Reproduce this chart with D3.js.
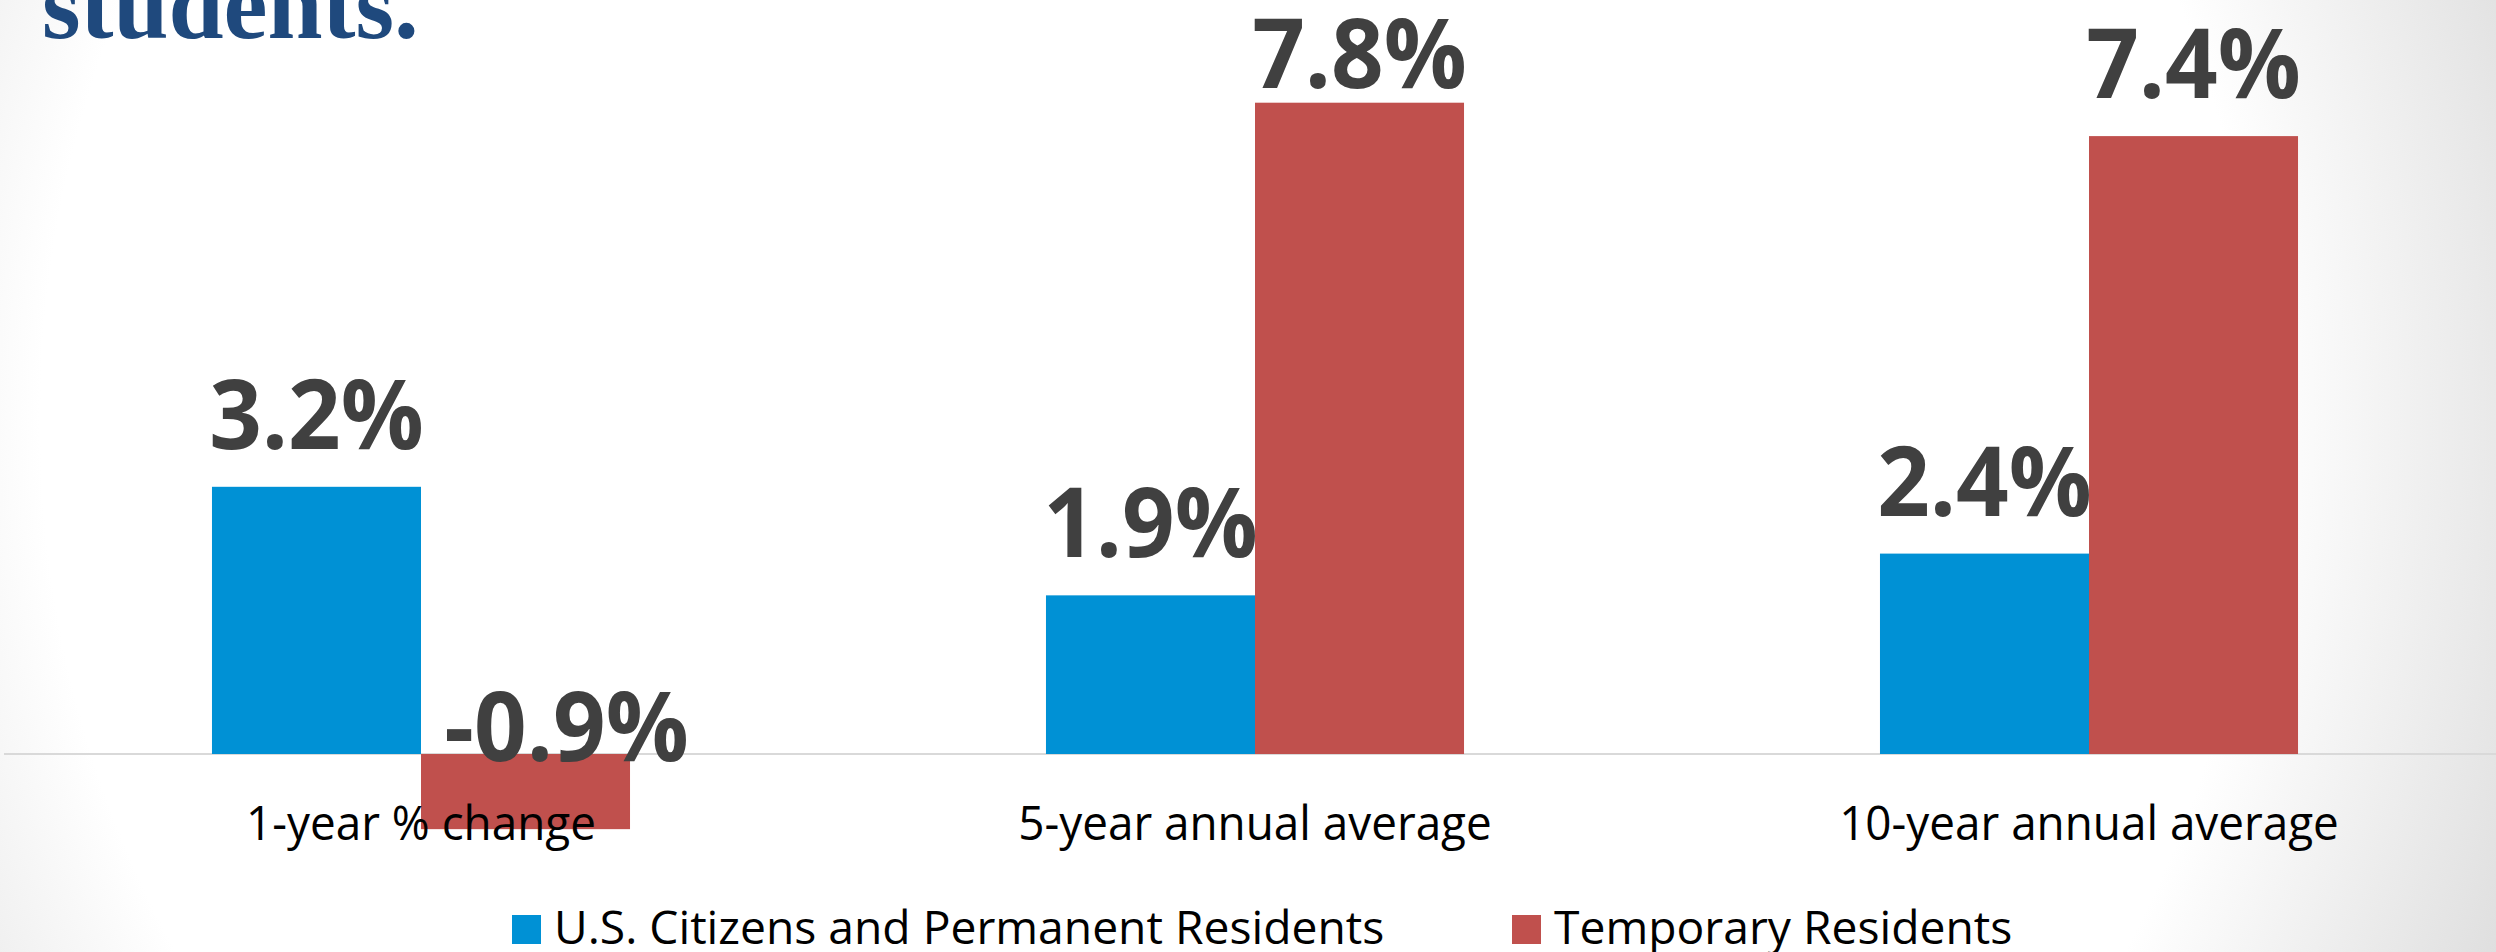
<!DOCTYPE html>
<html>
<head>
<meta charset="utf-8">
<script src="https://cdn.jsdelivr.net/npm/d3@7/dist/d3.min.js"></script>
<style>
  html, body { margin: 0; padding: 0; background: #fff; }
  svg { display: block; }
</style>
</head>
<body>
<svg id="chart" width="2496" height="952"></svg>
<script>
// ---- data ----
const categories = ["1-year % change", "5-year annual average", "10-year annual average"];
const seriesNames = ["U.S. Citizens and Permanent Residents", "Temporary Residents"];
const citizensValues = [3.2, 1.9, 2.4];
const temporaryValues = [-0.9, 7.8, 7.4];
const titleText = "students.";

// ---- layout / style ----
const W = 2496, H = 952;
const colors = ["#0091d5", "#c0504d"];
const svg = d3.select("#chart");

function condense(sel, factor) {
  sel.each(function () {
    const w = this.getComputedTextLength();
    d3.select(this).attr("textLength", w * factor).attr("lengthAdjust", "spacingAndGlyphs");
  });
}

// background radial gradient
const defs = svg.append("defs");
const grad = defs.append("radialGradient")
  .attr("id", "bg").attr("gradientUnits", "userSpaceOnUse")
  .attr("cx", 1150).attr("cy", 420).attr("r", 1460);
grad.append("stop").attr("offset", 0).attr("stop-color", "#ffffff");
grad.append("stop").attr("offset", 0.76).attr("stop-color", "#ffffff");
grad.append("stop").attr("offset", 1).attr("stop-color", "#dedede");
svg.append("rect").attr("width", W).attr("height", H).attr("fill", "url(#bg)");

// title fragment (cut at top, as in the reference)
svg.append("text")
  .attr("x", 42).attr("y", 38)
  .attr("font-family", "'Liberation Serif', 'DejaVu Serif', serif")
  .attr("font-weight", "bold")
  .attr("font-size", 99)
  .attr("fill", "#1f497d")
  .text(titleText);

const data = categories.map((c, i) => ({
  category: c,
  values: [
    { series: seriesNames[0], value: citizensValues[i], idx: 0 },
    { series: seriesNames[1], value: temporaryValues[i], idx: 1 }
  ]
}));

const x0 = d3.scaleBand().domain(categories).range([4, 2506]).paddingInner(0).paddingOuter(0);
const x1 = d3.scaleBand().domain(seriesNames).range([0, x0.bandwidth()]).paddingInner(0).paddingOuter(0.995);
const y = d3.scaleLinear().domain([-1, 8]).range([754 + 83.5, 754 - 8 * 83.5]);

// baseline axis
svg.append("line")
  .attr("x1", 4).attr("x2", W)
  .attr("y1", y(0)).attr("y2", y(0))
  .attr("stroke", "#d9d9d9").attr("stroke-width", 2);

const groups = svg.append("g").selectAll("g").data(data).join("g")
  .attr("transform", d => `translate(${x0(d.category)},0)`);

groups.selectAll("rect").data(d => d.values).join("rect")
  .attr("x", d => x1(d.series))
  .attr("width", x1.bandwidth())
  .attr("y", d => y(Math.max(0, d.value)))
  .attr("height", d => Math.abs(y(d.value) - y(0)))
  .attr("fill", d => colors[d.idx]);

// value labels
const fmt = v => v.toFixed(1) + "%";
groups.selectAll("text.val").data(d => d.values).join("text")
  .attr("class", "val")
  .attr("x", d => x1(d.series) + x1.bandwidth() / 2 + (d.value < 0 ? 41 : 0))
  .attr("y", d => d.value < 0 ? y(0) + 7 : Math.max(88, y(d.value) - 38))
  .attr("text-anchor", "middle")
  .attr("font-family", "'Open Sans', sans-serif")
  .attr("font-weight", "bold")
  .attr("font-size", 97)
  .attr("fill", "#404040")
  .text(d => fmt(d.value))
  .call(condense, 0.95);

// category axis labels (drawn above bars)
svg.append("g").selectAll("text").data(categories).join("text")
  .attr("x", d => x0(d) + x0.bandwidth() / 2)
  .attr("y", 840)
  .attr("text-anchor", "middle")
  .attr("font-family", "'Open Sans', sans-serif")
  .attr("font-size", 48)
  .attr("fill", "#000")
  .text(d => d)
  .call(condense, 0.955);

// legend
const legendX = [512, 1512];
const leg = svg.append("g").selectAll("g").data(seriesNames).join("g")
  .attr("transform", (d, i) => `translate(${legendX[i]},915)`);
leg.append("rect").attr("width", 29).attr("height", 29).attr("fill", (d, i) => colors[i]);
leg.append("text")
  .attr("x", 42).attr("y", 29)
  .attr("font-family", "'Open Sans', sans-serif")
  .attr("font-size", 46)
  .attr("fill", "#000")
  .text(d => d)
  .call(condense, 1.005);
</script>
</body>
</html>
